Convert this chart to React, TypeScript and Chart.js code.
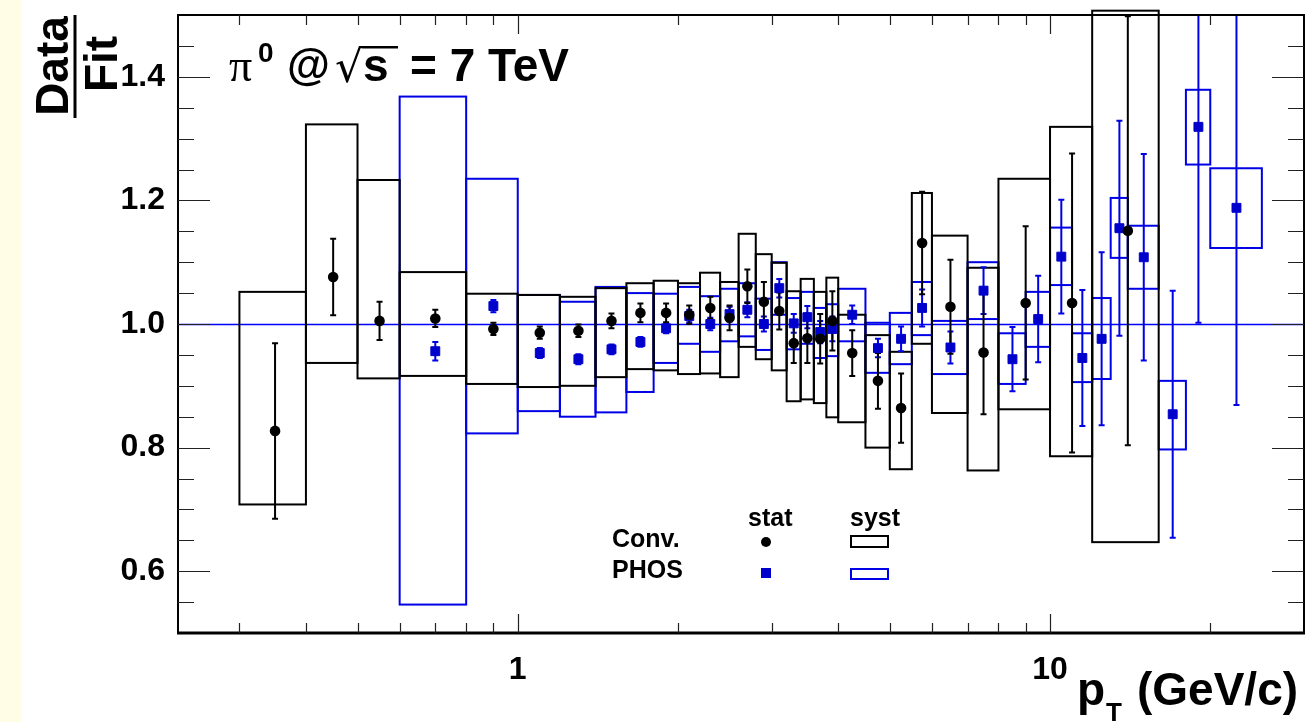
import React, { useEffect, useRef } from 'react';
import { Chart, registerables } from 'chart.js';

Chart.register(...registerables);

// ---------- Conv. (photon conversion) ----------
const convPtLow = [0.3, 0.4, 0.5, 0.6, 0.8, 1.0, 1.2, 1.4, 1.6, 1.8, 2.0, 2.2, 2.4, 2.6, 2.8, 3.0, 3.2, 3.4, 3.6, 3.8, 4.0, 4.5, 5.0, 5.5, 6, 7, 8, 10, 12];
const convPtHigh = [0.4, 0.5, 0.6, 0.8, 1.0, 1.2, 1.4, 1.6, 1.8, 2.0, 2.2, 2.4, 2.6, 2.8, 3.0, 3.2, 3.4, 3.6, 3.8, 4.0, 4.5, 5.0, 5.5, 6, 7, 8, 10, 12, 16];
const convPt = [0.35, 0.45, 0.55, 0.7, 0.9, 1.1, 1.3, 1.5, 1.7, 1.9, 2.1, 2.3, 2.5, 2.7, 2.9, 3.1, 3.3, 3.5, 3.7, 3.9, 4.25, 4.75, 5.25, 5.75, 6.5, 7.5, 9, 11, 14];
const convRatio = [0.827, 1.076, 1.005, 1.009, 0.992, 0.986, 0.989, 1.005, 1.018, 1.018, 1.015, 1.026, 1.010, 1.061, 1.036, 1.021, 0.969, 0.977, 0.976, 1.005, 0.953, 0.908, 0.864, 1.131, 1.028, 0.954, 1.034, 1.034, 1.151];
const convStat = [0.142, 0.062, 0.031, 0.014, 0.010, 0.010, 0.010, 0.012, 0.015, 0.015, 0.015, 0.018, 0.020, 0.027, 0.032, 0.030, 0.032, 0.040, 0.040, 0.048, 0.037, 0.045, 0.056, 0.083, 0.076, 0.100, 0.124, 0.242, 0.347];
const convSystLow = [0.708, 0.937, 0.912, 0.916, 0.903, 0.898, 0.900, 0.914, 0.927, 0.925, 0.919, 0.920, 0.914, 0.963, 0.943, 0.925, 0.875, 0.878, 0.872, 0.849, 0.841, 0.800, 0.765, 0.968, 0.856, 0.763, 0.862, 0.786, 0.647];
const convSystHigh = [1.052, 1.323, 1.233, 1.084, 1.049, 1.047, 1.044, 1.058, 1.066, 1.070, 1.066, 1.083, 1.068, 1.146, 1.113, 1.099, 1.053, 1.073, 1.052, 1.075, 1.015, 0.982, 0.955, 1.212, 1.143, 1.091, 1.235, 1.319, 1.507];

// ---------- PHOS ----------
const phosPtLow = [0.6, 0.8, 1.0, 1.2, 1.4, 1.6, 1.8, 2.0, 2.2, 2.4, 2.6, 2.8, 3.0, 3.2, 3.4, 3.6, 3.8, 4.0, 4.5, 5.0, 5.5, 6, 7, 8, 9, 10, 11, 12, 13, 14, 16, 18, 20];
const phosPtHigh = [0.8, 1.0, 1.2, 1.4, 1.6, 1.8, 2.0, 2.2, 2.4, 2.6, 2.8, 3.0, 3.2, 3.4, 3.6, 3.8, 4.0, 4.5, 5.0, 5.5, 6, 7, 8, 9, 10, 11, 12, 13, 14, 16, 18, 20, 25];
const phosPt = [0.7, 0.9, 1.1, 1.3, 1.5, 1.7, 1.9, 2.1, 2.3, 2.5, 2.7, 2.9, 3.1, 3.3, 3.5, 3.7, 3.9, 4.25, 4.75, 5.25, 5.75, 6.5, 7.5, 8.5, 9.5, 10.5, 11.5, 12.5, 13.5, 15, 17, 19, 22.4];
const phosRatio = [0.956, 1.029, 0.953, 0.943, 0.959, 0.971, 0.993, 1.013, 1.000, 1.016, 1.023, 1.000, 1.058, 1.001, 1.011, 0.987, 0.992, 1.015, 0.961, 0.976, 1.026, 0.962, 1.054, 0.943, 1.008, 1.109, 0.945, 0.976, 1.155, 1.108, 0.854, 1.319, 1.188];
const phosStat = [0.015, 0.010, 0.008, 0.008, 0.008, 0.008, 0.008, 0.010, 0.010, 0.012, 0.012, 0.012, 0.015, 0.015, 0.018, 0.018, 0.020, 0.015, 0.015, 0.020, 0.030, 0.026, 0.038, 0.052, 0.070, 0.092, 0.110, 0.140, 0.174, 0.167, 0.200, 0.317, 0.319];
const phosSystLow = [0.546, 0.823, 0.859, 0.850, 0.857, 0.890, 0.937, 0.968, 0.955, 0.972, 0.980, 0.958, 1.015, 0.959, 0.968, 0.945, 0.948, 0.972, 0.921, 0.935, 0.982, 0.919, 1.008, 0.903, 0.963, 1.063, 0.906, 0.911, 1.107, 1.057, 0.797, 1.258, 1.123];
const phosSystHigh = [1.368, 1.235, 1.047, 1.036, 1.060, 1.050, 1.049, 1.060, 1.045, 1.057, 1.066, 1.041, 1.100, 1.042, 1.052, 1.026, 1.032, 1.057, 1.002, 1.018, 1.068, 1.005, 1.100, 0.985, 1.052, 1.156, 0.985, 1.042, 1.204, 1.159, 0.908, 1.379, 1.252];

// ---------- axes ----------
const xMin = 0.23;
const xMax = 30;
const yMin = 0.5;
const yMax = 1.5;
const xLabelTicks = [1, 10];
const xMinorTicks = [0.3, 0.4, 0.5, 0.6, 0.7, 0.8, 0.9, 2, 3, 4, 5, 6, 7, 8, 9, 20];
const yLabelTicks = [0.6, 0.8, 1.0, 1.2, 1.4];
const yMinorTicks = [0.55, 0.65, 0.7, 0.75, 0.85, 0.9, 0.95, 1.05, 1.1, 1.15, 1.25, 1.3, 1.35, 1.45];
const referenceLine = 1.0;

const SANS = "'Liberation Sans', Arial, Helvetica, sans-serif";
const BLACK = '#000000';
const BLUE_LINE = '#0000e6';
const BLUE_MARK = '#0000cc';

const rootPlugin = {
  id: 'rootStyle',
  beforeDraw(chart: any) {
    const { ctx, width, height } = chart;
    ctx.save();
    ctx.fillStyle = '#ffffff';
    ctx.fillRect(0, 0, width, height);
    ctx.fillStyle = '#fffde6';
    ctx.fillRect(0, 0, 21, height);
    ctx.restore();
  },
  beforeDatasetsDraw(chart: any) {
    const { ctx, chartArea: ca, scales } = chart;
    const x = scales.x;
    const y = scales.y;
    ctx.save();
    // reference line
    ctx.strokeStyle = '#0000ff';
    ctx.lineWidth = 1.3;
    const yr = Math.round(y.getPixelForValue(referenceLine)) + 0.5;
    ctx.beginPath();
    ctx.moveTo(ca.left, yr);
    ctx.lineTo(ca.right, yr);
    ctx.stroke();

    const drawBoxes = (lo: number[], hi: number[], ylo: number[], yhi: number[], color: string) => {
      ctx.strokeStyle = color;
      ctx.lineWidth = 2;
      for (let i = 0; i < lo.length; i++) {
        const x0 = x.getPixelForValue(lo[i]);
        const x1 = x.getPixelForValue(hi[i]);
        const yt = y.getPixelForValue(yhi[i]);
        const yb = y.getPixelForValue(ylo[i]);
        ctx.strokeRect(x0, yt, x1 - x0, yb - yt);
      }
    };
    drawBoxes(phosPtLow, phosPtHigh, phosSystLow, phosSystHigh, BLUE_LINE);
    drawBoxes(convPtLow, convPtHigh, convSystLow, convSystHigh, BLACK);

    const drawErr = (pt: number[], val: number[], err: number[], color: string) => {
      ctx.strokeStyle = color;
      ctx.lineWidth = 2;
      for (let i = 0; i < pt.length; i++) {
        const px = x.getPixelForValue(pt[i]);
        const hiV = val[i] + err[i];
        const loV = val[i] - err[i];
        const pTop = y.getPixelForValue(Math.min(hiV, yMax));
        const pBot = y.getPixelForValue(Math.max(loV, yMin));
        ctx.beginPath();
        ctx.moveTo(px, pTop);
        ctx.lineTo(px, pBot);
        if (hiV < yMax) {
          ctx.moveTo(px - 3, pTop);
          ctx.lineTo(px + 3, pTop);
        }
        if (loV > yMin) {
          ctx.moveTo(px - 3, pBot);
          ctx.lineTo(px + 3, pBot);
        }
        ctx.stroke();
      }
    };
    drawErr(phosPt, phosRatio, phosStat, BLUE_LINE);
    drawErr(convPt, convRatio, convStat, BLACK);
    ctx.restore();
  },
  afterDraw(chart: any) {
    const { ctx, chartArea: ca, scales } = chart;
    const x = scales.x;
    const y = scales.y;
    ctx.save();
    // frame
    ctx.strokeStyle = BLACK;
    ctx.lineWidth = 2;
    ctx.strokeRect(ca.left, ca.top, ca.right - ca.left, ca.bottom - ca.top);
    ctx.lineWidth = 3;
    ctx.beginPath();
    ctx.moveTo(ca.left - 1, ca.bottom);
    ctx.lineTo(ca.right + 1, ca.bottom);
    ctx.stroke();

    // ticks
    ctx.strokeStyle = '#222';
    ctx.lineWidth = 1.2;
    ctx.beginPath();
    const xt = (v: number, len: number) => {
      const px = Math.round(x.getPixelForValue(v)) + 0.5;
      ctx.moveTo(px, ca.bottom);
      ctx.lineTo(px, ca.bottom - len);
      ctx.moveTo(px, ca.top);
      ctx.lineTo(px, ca.top + len);
    };
    xLabelTicks.forEach((v) => xt(v, 19));
    xMinorTicks.forEach((v) => xt(v, 10));
    const yt = (v: number, len: number) => {
      const py = Math.round(y.getPixelForValue(v)) + 0.5;
      ctx.moveTo(ca.left, py);
      ctx.lineTo(ca.left + len, py);
      ctx.moveTo(ca.right, py);
      ctx.lineTo(ca.right - len, py);
    };
    yLabelTicks.forEach((v) => yt(v, 32));
    yMinorTicks.forEach((v) => yt(v, 16));
    ctx.stroke();

    // title
    ctx.fillStyle = BLACK;
    ctx.textAlign = 'left';
    ctx.textBaseline = 'alphabetic';
    ctx.font = "46px 'Liberation Serif', 'Times New Roman', serif";
    ctx.fillText('π', 229, 81);
    ctx.font = `bold 28px ${SANS}`;
    ctx.fillText('0', 258, 62);
    ctx.font = `bold 44px ${SANS}`;
    ctx.fillText('@', 287, 80);
    ctx.font = `44px 'DejaVu Sans', sans-serif`;
    const rx = 335;
    const rb = 82;
    ctx.fillText('√', rx, rb);
    const m = ctx.measureText('√');
    ctx.strokeStyle = BLACK;
    ctx.lineWidth = 2.5;
    ctx.beginPath();
    const oy = rb - m.actualBoundingBoxAscent + 1.2;
    ctx.moveTo(rx + m.actualBoundingBoxRight - 1.5, oy);
    ctx.lineTo(398, oy);
    ctx.stroke();
    ctx.font = `bold 46px ${SANS}`;
    ctx.fillText('s', 363, 81);
    ctx.fillText('= 7 TeV', 410, 81);

    // legend
    ctx.font = `bold 25px ${SANS}`;
    ctx.fillText('stat', 748, 526);
    ctx.fillText('syst', 850, 526);
    ctx.fillText('Conv.', 612, 547);
    ctx.fillText('PHOS', 612, 578);
    ctx.beginPath();
    ctx.arc(766, 542, 5, 0, Math.PI * 2);
    ctx.fill();
    ctx.fillStyle = BLUE_MARK;
    ctx.fillRect(761, 568, 10, 10);
    ctx.lineWidth = 2;
    ctx.strokeStyle = BLACK;
    ctx.strokeRect(851, 536, 37, 11);
    ctx.strokeStyle = BLUE_LINE;
    ctx.strokeRect(851, 569, 37, 10);

    // x axis title
    ctx.fillStyle = BLACK;
    ctx.font = `bold 46px ${SANS}`;
    ctx.fillText('p', 1077, 705);
    ctx.font = `bold 26px ${SANS}`;
    ctx.fillText('T', 1106, 721);
    ctx.font = `bold 46px ${SANS}`;
    ctx.fillText('(GeV/c)', 1137, 705);

    // y axis title: Data / Fit
    ctx.font = `bold 46px ${SANS}`;
    ctx.textAlign = 'center';
    ctx.save();
    ctx.translate(68, 66);
    ctx.rotate(-Math.PI / 2);
    ctx.fillText('Data', 0, 0);
    ctx.restore();
    ctx.save();
    ctx.translate(117, 64);
    ctx.rotate(-Math.PI / 2);
    ctx.fillText('Fit', 0, 0);
    ctx.restore();
    ctx.lineWidth = 3;
    ctx.strokeStyle = BLACK;
    ctx.beginPath();
    ctx.moveTo(75, 15);
    ctx.lineTo(75, 118);
    ctx.stroke();
    ctx.restore();
  },
};

export default function App() {
  const ref = useRef<HTMLCanvasElement>(null);
  useEffect(() => {
    const canvas = ref.current;
    if (!canvas) return;
    const chart = new Chart(canvas, {
      type: 'scatter',
      data: {
        datasets: [
          {
            label: 'Conv.',
            data: convPt.map((v, i) => ({ x: v, y: convRatio[i] })),
            pointStyle: 'circle',
            pointRadius: 5.3,
            backgroundColor: BLACK,
            borderColor: BLACK,
            borderWidth: 0,
          },
          {
            label: 'PHOS',
            data: phosPt.map((v, i) => ({ x: v, y: phosRatio[i] })),
            pointStyle: 'rect',
            pointRadius: 6.3,
            backgroundColor: BLUE_MARK,
            borderColor: BLUE_MARK,
            borderWidth: 1,
          },
        ],
      },
      options: {
        responsive: false,
        animation: false,
        events: [],
        layout: { autoPadding: false, padding: { left: 0, right: 2, top: 15, bottom: 0 } },
        plugins: { legend: { display: false }, tooltip: { enabled: false }, title: { display: false } },
        scales: {
          x: {
            type: 'logarithmic',
            min: xMin,
            max: xMax,
            grid: { display: false },
            border: { display: false },
            afterBuildTicks: (s: any) => {
              s.ticks = xLabelTicks.map((v) => ({ value: v }));
            },
            afterFit: (s: any) => {
              s.height = 89;
              s.paddingLeft = 0;
              s.paddingRight = 0;
              s.paddingTop = 0;
              s.paddingBottom = 0;
            },
            ticks: {
              autoSkip: false,
              maxRotation: 0,
              padding: 10,
              color: BLACK,
              font: { family: SANS, size: 32, weight: 'bold' },
              callback: (v: any) => String(v),
            },
          },
          y: {
            type: 'linear',
            min: yMin,
            max: yMax,
            grid: { display: false },
            border: { display: false },
            afterBuildTicks: (s: any) => {
              s.ticks = yLabelTicks.map((v) => ({ value: v }));
            },
            afterFit: (s: any) => {
              s.width = 178;
              s.paddingLeft = 0;
              s.paddingRight = 0;
              s.paddingTop = 0;
              s.paddingBottom = 0;
            },
            ticks: {
              padding: 5,
              color: BLACK,
              font: { family: SANS, size: 32, weight: 'bold' },
              callback: (v: any) => Number(v).toFixed(1),
            },
          },
        },
      } as any,
      plugins: [rootPlugin],
    });
    return () => chart.destroy();
  }, []);
  return (
    <div style={{ position: 'fixed', left: 0, top: 0, width: 1306, height: 722, background: '#fff' }}>
      <canvas ref={ref} width={1306} height={722} style={{ display: 'block', width: 1306, height: 722 }} />
    </div>
  );
}
